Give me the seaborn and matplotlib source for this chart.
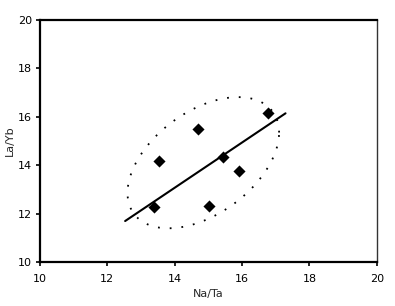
import numpy as np
import pandas as pd
from matplotlib import pyplot as plt
import seaborn as sns

# samples
na_ta = [13.39, 13.54, 14.69, 15.42, 15.92, 15.02, 16.76]
la_yb = [12.26, 14.19, 15.48, 14.35, 13.77, 12.33, 16.14]

# trend line end points
trend_x = [12.53, 17.29]
trend_y = [11.69, 16.14]

# dotted envelope: centre, spreads and correlation
ell_center = [14.85, 14.10]
ell_spread = [2.25, 2.71]
ell_rho = 0.46

ticks = [10, 12, 14, 16, 18, 20]

sns.set_style("white")
plt.rcParams['font.family'] = ['DejaVu Sans']

fig = plt.figure(figsize=(3.95, 3.06), dpi=100)
ax = fig.add_axes([0.101, 0.144, 0.853, 0.791])

df = pd.DataFrame({"Na/Ta": na_ta, "La/Yb": la_yb})

# envelope
cov = np.array([[ell_spread[0] ** 2, ell_rho * ell_spread[0] * ell_spread[1]],
                [ell_rho * ell_spread[0] * ell_spread[1], ell_spread[1] ** 2]])
L = np.linalg.cholesky(cov)
t = np.linspace(0, 2 * np.pi, 300)
pts = L @ np.vstack([np.cos(t), np.sin(t)])
ax.plot(pts[0] + ell_center[0], pts[1] + ell_center[1], color="black",
        lw=1.3, linestyle=(0, (1, 5.5)))

sns.lineplot(x=trend_x, y=trend_y, color="black", lw=1.5, ax=ax)
sns.scatterplot(data=df, x="Na/Ta", y="La/Yb", marker="D", color="black",
                s=38, edgecolor="black", linewidth=0, ax=ax)

ax.set_xlim(10, 20)
ax.set_ylim(10, 20)
ax.set_xticks(ticks)
ax.set_yticks(ticks)
ax.tick_params(axis="both", direction="out", length=3, width=1.2, labelsize=8,
               colors="black", bottom=True, left=True, pad=2.5)
ax.tick_params(axis="x", pad=6)
ax.set_xlabel("Na/Ta", fontsize=8, labelpad=3)
ax.set_ylabel("La/Yb", fontsize=8, labelpad=2)

for side in ["left", "bottom", "top"]:
    ax.spines[side].set_color("black")
    ax.spines[side].set_linewidth(1.6)
ax.spines["right"].set_color("#333333")
ax.spines["right"].set_linewidth(1.0)

plt.savefig("out.png", dpi=100)
